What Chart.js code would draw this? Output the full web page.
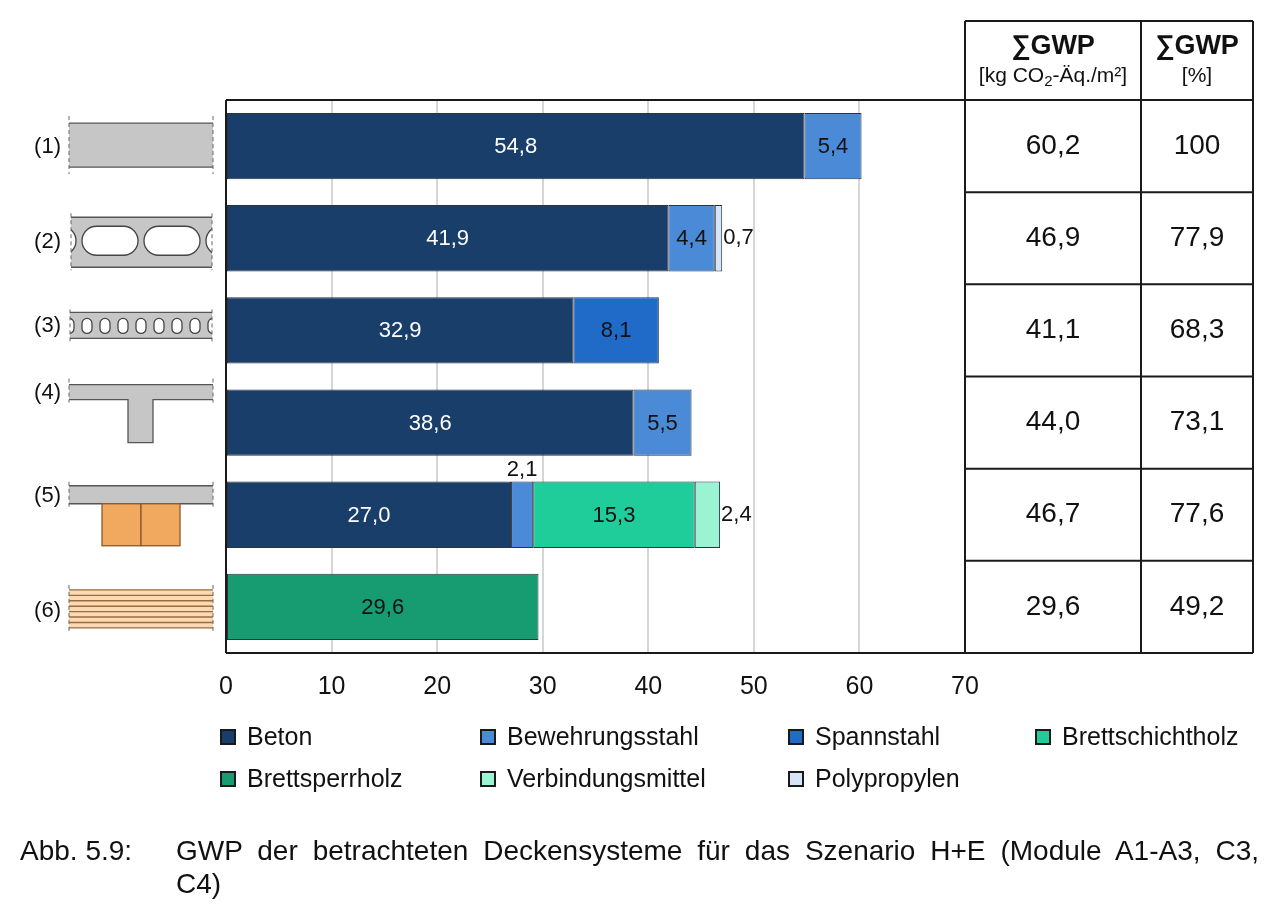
<!DOCTYPE html>
<html>
<head>
<meta charset="utf-8">
<script src="https://cdn.jsdelivr.net/npm/chart.js@4/dist/chart.umd.min.js"></script>
<style>
body { margin: 0; background: #fff; font-family: "Liberation Sans", Arial, sans-serif; }
#wrap { position: relative; width: 1280px; height: 914px; }
#caption { position: absolute; left: 20px; top: 834px; font-size: 28px; color: #111; line-height: 33px; }
#caption .num { position: absolute; left: 0; top: 0; white-space: nowrap; }
#caption .txt { position: absolute; left: 156px; top: 0; width: 1083px; }
#caption .l1 { display: block; text-align: justify; text-align-last: justify; white-space: nowrap; }
</style>
</head>
<body>
<div id="wrap">
    <canvas id="barChart"></canvas>
    <div id="caption">
        <span class="num">Abb. 5.9:</span>
        <div class="txt"><span class="l1">GWP der betrachteten Deckensysteme für das Szenario H+E (Module A1-A3, C3,</span>C4)</div>
    </div>
</div>
<script>
const categories = ['(1)', '(2)', '(3)', '(4)', '(5)', '(6)'];
const beton = [54.8, 41.9, 32.9, 38.6, 27.0, null];
const bewehrungsstahl = [5.4, 4.4, null, 5.5, 2.1, null];
const spannstahl = [null, null, 8.1, null, null, null];
const polypropylen = [null, 0.7, null, null, null, null];
const brettschichtholz = [null, null, null, null, 15.3, null];
const verbindungsmittel = [null, null, null, null, 2.4, null];
const brettsperrholz = [null, null, null, null, null, 29.6];
const sumGwp = [60.2, 46.9, 41.1, 44.0, 46.7, 29.6];
const sumGwpPct = [100, 77.9, 68.3, 73.1, 77.6, 49.2];
const xMax = 70;
const xStep = 10;

const FONT = '"Liberation Sans", Arial, sans-serif';
const fmt = v => (v === 100 ? '100' : v.toFixed(1).replace('.', ','));

const datasets = [
    { label: 'Beton', data: beton, backgroundColor: '#1a3e6a', textColor: '#fff' },
    { label: 'Bewehrungsstahl', data: bewehrungsstahl, backgroundColor: '#4b8ad6', textColor: '#111' },
    { label: 'Spannstahl', data: spannstahl, backgroundColor: '#1f6bc7', textColor: '#111' },
    { label: 'Polypropylen', data: polypropylen, backgroundColor: '#d5e5f7', textColor: '#111' },
    { label: 'Brettschichtholz', data: brettschichtholz, backgroundColor: '#1fcd9b', textColor: '#111' },
    { label: 'Verbindungsmittel', data: verbindungsmittel, backgroundColor: '#9af4d4', textColor: '#111' },
    { label: 'Brettsperrholz', data: brettsperrholz, backgroundColor: '#179c72', textColor: '#111' }
].map(d => Object.assign(d, { borderColor: '#2a3340', borderWidth: 1, borderSkipped: false }));

// legend grid order (row by row)
const legendOrder = ['Beton', 'Bewehrungsstahl', 'Spannstahl', 'Brettschichtholz',
    'Brettsperrholz', 'Verbindungsmittel', 'Polypropylen'];

// value labels on / next to the bar segments
const barLabels = {
    id: 'barLabels',
    afterDatasetsDraw(chart) {
        const ctx = chart.ctx;
        const last = categories.map((c, i) => {
            let k = -1;
            chart.data.datasets.forEach((ds, di) => { if (ds.data[i] != null) k = di; });
            return k;
        });
        ctx.save();
        ctx.font = '22px ' + FONT;
        ctx.textBaseline = 'middle';
        chart.data.datasets.forEach((ds, di) => {
            chart.getDatasetMeta(di).data.forEach((bar, i) => {
                const v = ds.data[i];
                if (v == null) return;
                const w = Math.abs(bar.x - bar.base);
                const mid = (bar.x + bar.base) / 2;
                if (w > 35) {
                    ctx.fillStyle = ds.textColor;
                    ctx.textAlign = 'center';
                    ctx.fillText(fmt(v), mid, bar.y + 1);
                } else if (last[i] === di) {
                    ctx.fillStyle = '#111';
                    ctx.textAlign = 'left';
                    ctx.fillText(fmt(v), bar.x + 1, bar.y);
                } else {
                    ctx.fillStyle = '#111';
                    ctx.textAlign = 'center';
                    ctx.fillText(fmt(v), mid, bar.y - bar.height / 2 - 12);
                }
            });
        });
        ctx.restore();
    }
};

// cross-section sketches left of the bars
function edges(ctx, x0, x1, y0, y1) {
    ctx.save();
    ctx.strokeStyle = '#666';
    ctx.lineWidth = 1;
    ctx.setLineDash([4, 3]);
    ctx.beginPath();
    ctx.moveTo(x0, y0); ctx.lineTo(x0, y1);
    ctx.moveTo(x1, y0); ctx.lineTo(x1, y1);
    ctx.stroke();
    ctx.restore();
}
function slab(ctx, x0, x1, y0, y1) {
    ctx.fillStyle = '#c6c6c6';
    ctx.fillRect(x0, y0, x1 - x0, y1 - y0);
    ctx.strokeStyle = '#555';
    ctx.lineWidth = 1.3;
    ctx.beginPath();
    ctx.moveTo(x0, y0); ctx.lineTo(x1, y0);
    ctx.moveTo(x0, y1); ctx.lineTo(x1, y1);
    ctx.stroke();
}
function holes(ctx, x0, x1, y0, y1, starts, w, top, h) {
    ctx.save();
    ctx.beginPath();
    ctx.rect(x0, y0, x1 - x0, y1 - y0);
    ctx.clip();
    ctx.fillStyle = '#fff';
    ctx.strokeStyle = '#444';
    ctx.lineWidth = 1.3;
    starts.forEach(s => {
        ctx.beginPath();
        ctx.roundRect(s, top, w, h, Math.min(w, h) / 2);
        ctx.fill();
        ctx.stroke();
    });
    ctx.restore();
}

const sections = {
    id: 'sections',
    afterDraw(chart) {
        const ctx = chart.ctx;
        const y = chart.scales.y;
        const L = 69, R = 213;
        const labelY = [];
        ctx.save();
        categories.forEach((cat, i) => {
            const c = y.getPixelForValue(i);
            if (i === 0) {
                slab(ctx, L, R, c - 23, c + 21);
                edges(ctx, L, R, c - 30, c + 28);
                labelY.push(c + 1);
            } else if (i === 1) {
                slab(ctx, L + 2, R - 1, c - 21, c + 29);
                holes(ctx, L + 2, R - 1, c - 21, c + 29, [20, 82, 144, 206], 56, c - 12, 29);
                edges(ctx, L + 2, R - 1, c - 25, c + 32);
                labelY.push(c + 4);
            } else if (i === 2) {
                slab(ctx, L + 1, R - 1, c - 18, c + 8);
                const st = [];
                for (let k = 0; k < 9; k++) st.push(64 + 18 * k);
                holes(ctx, L + 1, R - 1, c - 18, c + 8, st, 10, c - 12, 15);
                edges(ctx, L + 1, R - 1, c - 21, c + 11);
                labelY.push(c - 4);
            } else if (i === 3) {
                const ft = c - 38, fb = c - 23, wb = c + 20;
                ctx.fillStyle = '#c6c6c6';
                ctx.fillRect(L, ft, R - L, fb - ft);
                ctx.fillRect(128, fb - 1, 25, wb - fb + 1);
                ctx.strokeStyle = '#555';
                ctx.lineWidth = 1.3;
                ctx.beginPath();
                ctx.moveTo(L, ft); ctx.lineTo(R, ft);
                ctx.moveTo(R, fb); ctx.lineTo(153, fb); ctx.lineTo(153, wb);
                ctx.lineTo(128, wb); ctx.lineTo(128, fb); ctx.lineTo(L, fb);
                ctx.stroke();
                edges(ctx, L, R, ft - 6, fb + 3);
                labelY.push(c - 30);
            } else if (i === 4) {
                slab(ctx, L, R, c - 29, c - 11);
                edges(ctx, L, R, c - 33, c - 7);
                ctx.fillStyle = '#f0a95f';
                ctx.strokeStyle = '#8a5a2c';
                ctx.lineWidth = 1.3;
                [[102, 141], [141, 180]].forEach(([a, b]) => {
                    ctx.fillRect(a, c - 11, b - a, 42);
                    ctx.strokeRect(a, c - 11, b - a, 42);
                });
                labelY.push(c - 19);
            } else {
                const t = c - 17, b = c + 21;
                ctx.fillStyle = '#fbd9b3';
                ctx.fillRect(L, t, R - L, b - t);
                ctx.strokeStyle = '#9c6b3f';
                ctx.lineWidth = 1.4;
                ctx.beginPath();
                for (let k = 0; k <= 7; k++) {
                    const yy = t + (b - t) * k / 7;
                    ctx.moveTo(L, yy); ctx.lineTo(R, yy);
                }
                ctx.stroke();
                edges(ctx, L, R, t - 5, b + 5);
                labelY.push(c + 4);
            }
        });
        ctx.fillStyle = '#111';
        ctx.font = '22px ' + FONT;
        ctx.textAlign = 'right';
        ctx.textBaseline = 'middle';
        categories.forEach((cat, i) => ctx.fillText(cat, 61, labelY[i]));
        ctx.restore();
    }
};

// plot frame, table at the right, legend below
const frameAndTable = {
    id: 'frameAndTable',
    afterDraw(chart) {
        const ctx = chart.ctx;
        const a = chart.chartArea;
        const y = chart.scales.y;
        const c1 = a.right, c2 = 1141, c3 = 1253, top = 21;
        ctx.save();
        ctx.strokeStyle = '#1a1a1a';
        ctx.lineWidth = 2;
        ctx.beginPath();
        ctx.moveTo(a.left, a.top); ctx.lineTo(a.left, a.bottom);
        ctx.moveTo(a.left, a.top); ctx.lineTo(c3, a.top);
        ctx.moveTo(a.left, a.bottom); ctx.lineTo(c3, a.bottom);
        ctx.moveTo(c1, top); ctx.lineTo(c3, top);
        [c1, c2, c3].forEach(x => { ctx.moveTo(x, top); ctx.lineTo(x, a.bottom); });
        const rowH = (a.bottom - a.top) / categories.length;
        for (let k = 1; k < categories.length; k++) {
            ctx.moveTo(c1, a.top + rowH * k); ctx.lineTo(c3, a.top + rowH * k);
        }
        ctx.stroke();

        ctx.fillStyle = '#111';
        ctx.textAlign = 'center';
        ctx.textBaseline = 'middle';
        ctx.font = 'bold 27px ' + FONT;
        ctx.fillText('∑GWP', (c1 + c2) / 2, 47);
        ctx.fillText('∑GWP', (c2 + c3) / 2, 47);
        ctx.font = '21px ' + FONT;
        ctx.fillText('[%]', (c2 + c3) / 2, 76);
        // [kg CO2-Äq./m²] with subscript 2
        const p1 = '[kg CO', p3 = '-Äq./m²]';
        const w1 = ctx.measureText(p1).width, w3 = ctx.measureText(p3).width;
        ctx.font = '15px ' + FONT;
        const w2 = ctx.measureText('2').width;
        let x = (c1 + c2) / 2 - (w1 + w2 + w3) / 2;
        ctx.textAlign = 'left';
        ctx.font = '21px ' + FONT;
        ctx.fillText(p1, x, 76);
        ctx.font = '15px ' + FONT;
        ctx.fillText('2', x + w1, 82);
        ctx.font = '21px ' + FONT;
        ctx.fillText(p3, x + w1 + w2, 76);

        ctx.textAlign = 'center';
        ctx.font = '28px ' + FONT;
        categories.forEach((cat, i) => {
            const cy = y.getPixelForValue(i);
            ctx.fillText(fmt(sumGwp[i]), (c1 + c2) / 2, cy);
            ctx.fillText(fmt(sumGwpPct[i]), (c2 + c3) / 2, cy);
        });

        // legend
        const colX = [221, 481, 789, 1036], rowY = [737, 779];
        ctx.font = '25px ' + FONT;
        ctx.textAlign = 'left';
        legendOrder.forEach((name, k) => {
            const ds = chart.data.datasets.find(d => d.label === name);
            const lx = colX[k % 4], ly = rowY[Math.floor(k / 4)];
            ctx.fillStyle = ds.backgroundColor;
            ctx.fillRect(lx, ly - 7, 14, 14);
            ctx.strokeStyle = '#1a1a1a';
            ctx.lineWidth = 2;
            ctx.strokeRect(lx, ly - 7, 14, 14);
            ctx.fillStyle = '#111';
            ctx.fillText(name, lx + 26, ly + 1);
        });
        ctx.restore();
    }
};

new Chart(document.getElementById('barChart'), {
    type: 'bar',
    data: { labels: categories, datasets: datasets },
    options: {
        indexAxis: 'y',
        responsive: true,
        maintainAspectRatio: false,
        animation: false,
        layout: { padding: { left: 226, right: 315, top: 100, bottom: 211 } },
        scales: {
            x: {
                stacked: true,
                min: 0,
                max: xMax,
                ticks: { stepSize: xStep, padding: 19, color: '#111', font: { size: 25, family: FONT } },
                grid: { color: '#d6d6d6', lineWidth: 2, drawTicks: false },
                border: { display: false },
                afterFit(s) { s.height = 50; }
            },
            y: { stacked: true, display: false }
        },
        plugins: {
            legend: { display: false },
            tooltip: { enabled: false }
        }
    },
    plugins: [barLabels, sections, frameAndTable]
});
</script>
</body>
</html>
